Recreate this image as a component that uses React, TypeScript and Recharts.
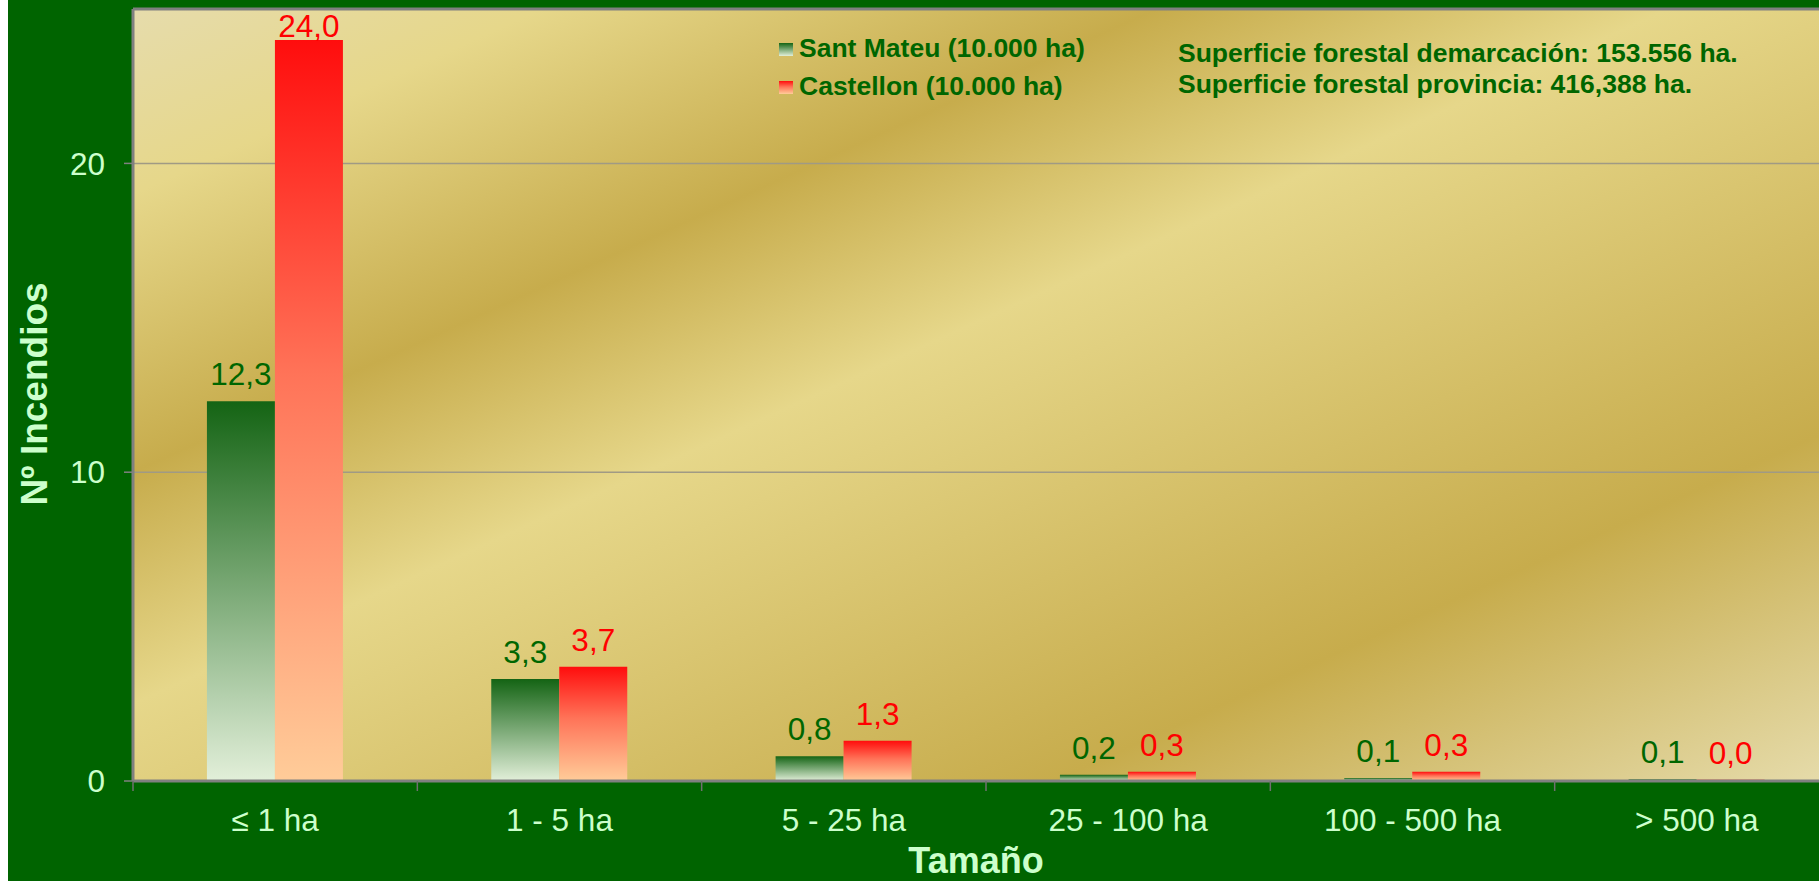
import React from 'react';
import { BarChart, Bar, XAxis, YAxis, CartesianGrid, LabelList, ReferenceLine, Label } from 'recharts';

const FONT = '"Liberation Sans", Arial, Helvetica, sans-serif';

const categories = ['≤ 1 ha', '1 - 5 ha', '5 - 25 ha', '25 - 100 ha', '100 - 500 ha', '> 500 ha'];
const santMateu = [12.3, 3.3, 0.8, 0.2, 0.1, 0.06];
const castellon = [24.0, 3.7, 1.3, 0.3, 0.3, 0.04];
const yTicks = [0, 10, 20];
const seriesNames = ['Sant Mateu (10.000 ha)', 'Castellon (10.000 ha)'];
const notes = ['Superficie forestal demarcación: 153.556 ha.', 'Superficie forestal provincia: 416,388 ha.'];
const yTitle = 'Nº Incendios';
const xTitle = 'Tamaño';

const data = categories.map((name, i) => ({ name, santMateu: santMateu[i], castellon: castellon[i] }));

const fmt = (v: any) => Number(v).toFixed(1).replace('.', ',');

const BG = '#006400';
const TXT_LIGHT = '#ccffcc';
const TXT_DARK = '#006600';
const PLOT_TOP = 9;
const LABEL_SIZE = 31.5;
const X_TICK_SIZE = 10;
const X_TICK_MARGIN = 18;

const makeValueLabel = (color: string) => (props: any) => {
  const { x, y, width, value } = props;
  const cx = Number(x) + Number(width) / 2;
  // above the bar, but kept inside the plot area (as the original does)
  const baseline = Math.max(Number(y) - 16, PLOT_TOP + LABEL_SIZE * 0.9);
  return (
    <text x={cx} y={baseline} textAnchor="middle" fill={color} fontSize={LABEL_SIZE} fontFamily={FONT}>
      {fmt(value)}
    </text>
  );
};

const CatTick = (props: any) => {
  const { x, y, payload } = props;
  const half = payload && payload.offset ? payload.offset : 0;
  const axisY = y - X_TICK_SIZE - X_TICK_MARGIN;
  return (
    <g>
      <line x1={x - half} x2={x - half} y1={axisY} y2={axisY + X_TICK_SIZE} stroke="#707070" strokeWidth={1.5} />
      <text x={x} y={y} dy="0.71em" textAnchor="middle" fill={TXT_LIGHT} fontSize={LABEL_SIZE} fontFamily={FONT}>
        {payload.value}
      </text>
    </g>
  );
};

export default function App() {
  return (
    <div
      style={{
        position: 'absolute',
        left: 8,
        top: 0,
        width: 1811,
        height: 881,
        overflow: 'hidden',
        background: BG,
        fontFamily: FONT,
      }}
    >
      <BarChart
        width={1850}
        height={881}
        data={data}
        margin={{ top: PLOT_TOP, right: 19, bottom: 0, left: 0 }}
        barCategoryGap="26%"
        barGap={0}
      >
        <defs>
          <linearGradient id="goldBg" x1="0" y1="0" x2="1" y2="1">
            <stop offset="0" stopColor="#E6DCAC" />
            <stop offset="0.12" stopColor="#E6D78A" />
            <stop offset="0.30" stopColor="#C7AC4C" />
            <stop offset="0.45" stopColor="#E6D78A" />
            <stop offset="0.77" stopColor="#C7AC4C" />
            <stop offset="1" stopColor="#E6DCAC" />
          </linearGradient>
          <linearGradient id="greenGrad" x1="0" y1="0" x2="0" y2="1">
            <stop offset="0" stopColor="#146414" />
            <stop offset="1" stopColor="#e2efd9" />
          </linearGradient>
          <linearGradient id="redGrad" x1="0" y1="0" x2="0" y2="1">
            <stop offset="0" stopColor="#ff0d0d" />
            <stop offset="0.45" stopColor="#ff7358" />
            <stop offset="1" stopColor="#ffcc99" />
          </linearGradient>
        </defs>
        <CartesianGrid
          vertical={false}
          stroke="#a09a84"
          strokeWidth={1.5}
          fill="url(#goldBg)"
          fillOpacity={1}
        />
        <XAxis
          dataKey="name"
          height={100}
          interval={0}
          axisLine={{ stroke: '#808080', strokeWidth: 3 }}
          tickLine={false}
          tickSize={X_TICK_SIZE}
          tickMargin={X_TICK_MARGIN}
          tick={<CatTick />}
        >
          <Label
            content={() => (
              <text x={968} y={873} textAnchor="middle" fill={TXT_LIGHT} fontSize={36} fontWeight="bold" fontFamily={FONT}>
                {xTitle}
              </text>
            )}
          />
        </XAxis>
        <YAxis
          domain={[0, 25]}
          ticks={yTicks}
          width={125}
          tickSize={9}
          tickMargin={19}
          axisLine={{ stroke: '#808080', strokeWidth: 3 }}
          tickLine={{ stroke: '#808080', strokeWidth: 1.5 }}
          tick={{ fill: TXT_LIGHT, fontSize: LABEL_SIZE, fontFamily: FONT }}
        >
          <Label
            content={() => (
              <text
                x={39}
                y={394}
                transform="rotate(-90, 39, 394)"
                textAnchor="middle"
                fill={TXT_LIGHT}
                fontSize={37}
                fontWeight="bold"
                fontFamily={FONT}
              >
                {yTitle}
              </text>
            )}
          />
        </YAxis>
        <ReferenceLine y={25} stroke="#808080" strokeWidth={3} />
        <Bar dataKey="santMateu" name={seriesNames[0]} fill="url(#greenGrad)" isAnimationActive={false}>
          <LabelList dataKey="santMateu" content={makeValueLabel(TXT_DARK)} />
        </Bar>
        <Bar dataKey="castellon" name={seriesNames[1]} fill="url(#redGrad)" isAnimationActive={false}>
          <LabelList dataKey="castellon" content={makeValueLabel('#ff0000')} />
        </Bar>
      </BarChart>

      <div
        style={{
          position: 'absolute',
          left: 771,
          top: 29,
          fontSize: 26.5,
          fontWeight: 'bold',
          color: TXT_DARK,
          lineHeight: '38px',
          whiteSpace: 'nowrap',
        }}
      >
        {seriesNames.map((n, i) => (
          <div key={n} style={{ position: 'relative', paddingLeft: 20 }}>
            <span
              style={{
                position: 'absolute',
                left: 0,
                top: 14,
                width: 14,
                height: 13,
                background:
                  i === 0
                    ? 'linear-gradient(to bottom, #146414, #e2efd9)'
                    : 'linear-gradient(to bottom, #ff0d0d, #ff7358 45%, #ffcc99)',
              }}
            />
            {n}
          </div>
        ))}
      </div>

      <div
        style={{
          position: 'absolute',
          left: 1170,
          top: 38,
          fontSize: 26.5,
          fontWeight: 'bold',
          color: TXT_DARK,
          lineHeight: '31px',
          whiteSpace: 'nowrap',
        }}
      >
        {notes.map((t) => (
          <div key={t}>{t}</div>
        ))}
      </div>
    </div>
  );
}
